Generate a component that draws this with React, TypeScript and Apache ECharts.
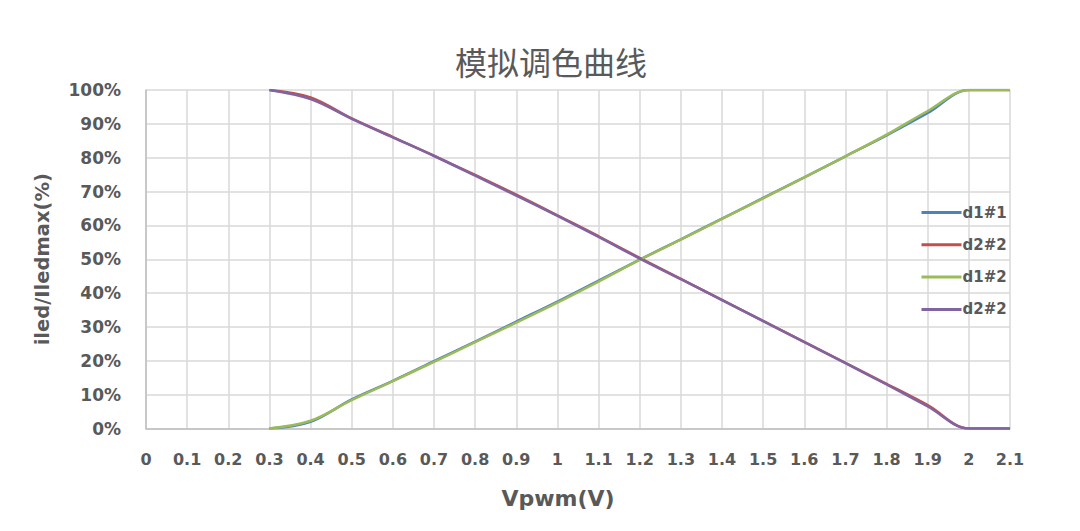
import React, { useEffect, useRef } from "react";
import * as echarts from "echarts";

const titleText = "模拟调色曲线";
const xName = "Vpwm(V)";
const yName = "iled/Iledmax(%)";

const vpwm = [0.3, 0.4, 0.5, 0.6, 0.7, 0.8, 0.9, 1.0, 1.1, 1.2, 1.3, 1.4, 1.5, 1.6, 1.7, 1.8, 1.9, 2.0, 2.1];

const d1_1 = [0, 2.0, 8.6, 14.1, 19.9, 25.7, 31.6, 37.5, 43.7, 49.9, 55.9, 62.0, 68.1, 74.2, 80.4, 86.6, 93.2, 100, 100];
const d2_2a = [100, 97.8, 91.6, 86.1, 80.6, 74.9, 69.1, 63.0, 56.8, 50.4, 44.2, 38.0, 31.8, 25.6, 19.4, 13.2, 6.9, 0, 0];
const d1_2 = [0, 2.3, 8.4, 14.0, 19.7, 25.5, 31.3, 37.2, 43.4, 49.8, 55.8, 61.9, 68.0, 74.2, 80.4, 86.8, 93.8, 100, 100];
const d2_2b = [100, 97.3, 91.5, 86.0, 80.5, 74.7, 68.8, 62.8, 56.6, 50.2, 44.1, 37.9, 31.7, 25.5, 19.3, 13.0, 6.5, 0, 0];

const seriesNames = ["d1#1", "d2#2", "d1#2", "d2#2(b)"];
const seriesColors = ["#4F81BD", "#C0504D", "#9BBB59", "#8064A2"];
const seriesValues = [d1_1, d2_2a, d1_2, d2_2b];

const TEXT = "#595959";
const FONT = "DejaVu Sans";

export default function App() {
  const ref = useRef<HTMLDivElement>(null);
  useEffect(() => {
    if (!ref.current) return;
    const chart = echarts.init(ref.current, null, { renderer: "svg" });
    chart.setOption({
      animation: false,
      backgroundColor: "#ffffff",
      title: {
        text: titleText,
        left: 450,
        top: 40,
        textStyle: { fontFamily: "Noto Sans CJK SC", fontSize: 32, fontWeight: "normal", color: TEXT },
      },
      legend: {
        orient: "vertical",
        left: 915,
        top: 200,
        itemWidth: 40,
        itemHeight: 14,
        itemGap: 17.3,
        data: seriesNames,
        itemStyle: { color: "rgba(0,0,0,0)", borderWidth: 0, opacity: 0 },
        lineStyle: { width: 3 },
        formatter: (n: string) => n.replace("(b)", ""),
        textStyle: { fontFamily: FONT, fontSize: 15, fontWeight: "bold", color: TEXT, padding: [0, 0, 0, -4] },
      },
      grid: { left: 146, right: 70, top: 90, bottom: 102.5, containLabel: false, outerBoundsMode: "none" },
      xAxis: {
        type: "value",
        min: 0,
        max: 2.1,
        interval: 0.1,
        name: xName,
        nameLocation: "middle",
        nameGap: 59,
        nameTextStyle: { fontFamily: FONT, fontSize: 22, fontWeight: "bold", color: TEXT, padding: [0, 40, 0, 0] },
        axisLine: { show: true, lineStyle: { color: "#bfbfbf", width: 1.5 } },
        axisTick: { show: false },
        axisLabel: {
          margin: 23,
          fontFamily: FONT,
          fontSize: 16,
          fontWeight: "bold",
          color: TEXT,
          formatter: (v: number) => String(Math.round(v * 10) / 10),
        },
        splitLine: { show: true, lineStyle: { color: "#d9d9d9", width: 1.5 } },
      },
      yAxis: {
        type: "value",
        min: 0,
        max: 100,
        interval: 10,
        name: yName,
        nameLocation: "middle",
        nameGap: 94,
        nameTextStyle: { fontFamily: FONT, fontSize: 19.5, fontWeight: "bold", color: TEXT },
        axisLine: { show: true, lineStyle: { color: "#bfbfbf", width: 1.5 } },
        axisTick: { show: false },
        axisLabel: { margin: 25, fontFamily: FONT, fontSize: 17, fontWeight: "bold", color: TEXT, formatter: "{value}%" },
        splitLine: { show: true, lineStyle: { color: "#d9d9d9", width: 1.5 } },
      },
      series: seriesNames.map((name, i) => ({
        name,
        type: "line",
        data: vpwm.map((x, k) => [x, seriesValues[i][k]]),
        smooth: 0.35,
        symbol: "none",
        color: seriesColors[i],
        lineStyle: { color: seriesColors[i], width: 2.5 },
      })),
    });
    return () => chart.dispose();
  }, []);
  return <div ref={ref} style={{ position: "fixed", left: 0, top: 0, width: 1080, height: 531 }} />;
}
